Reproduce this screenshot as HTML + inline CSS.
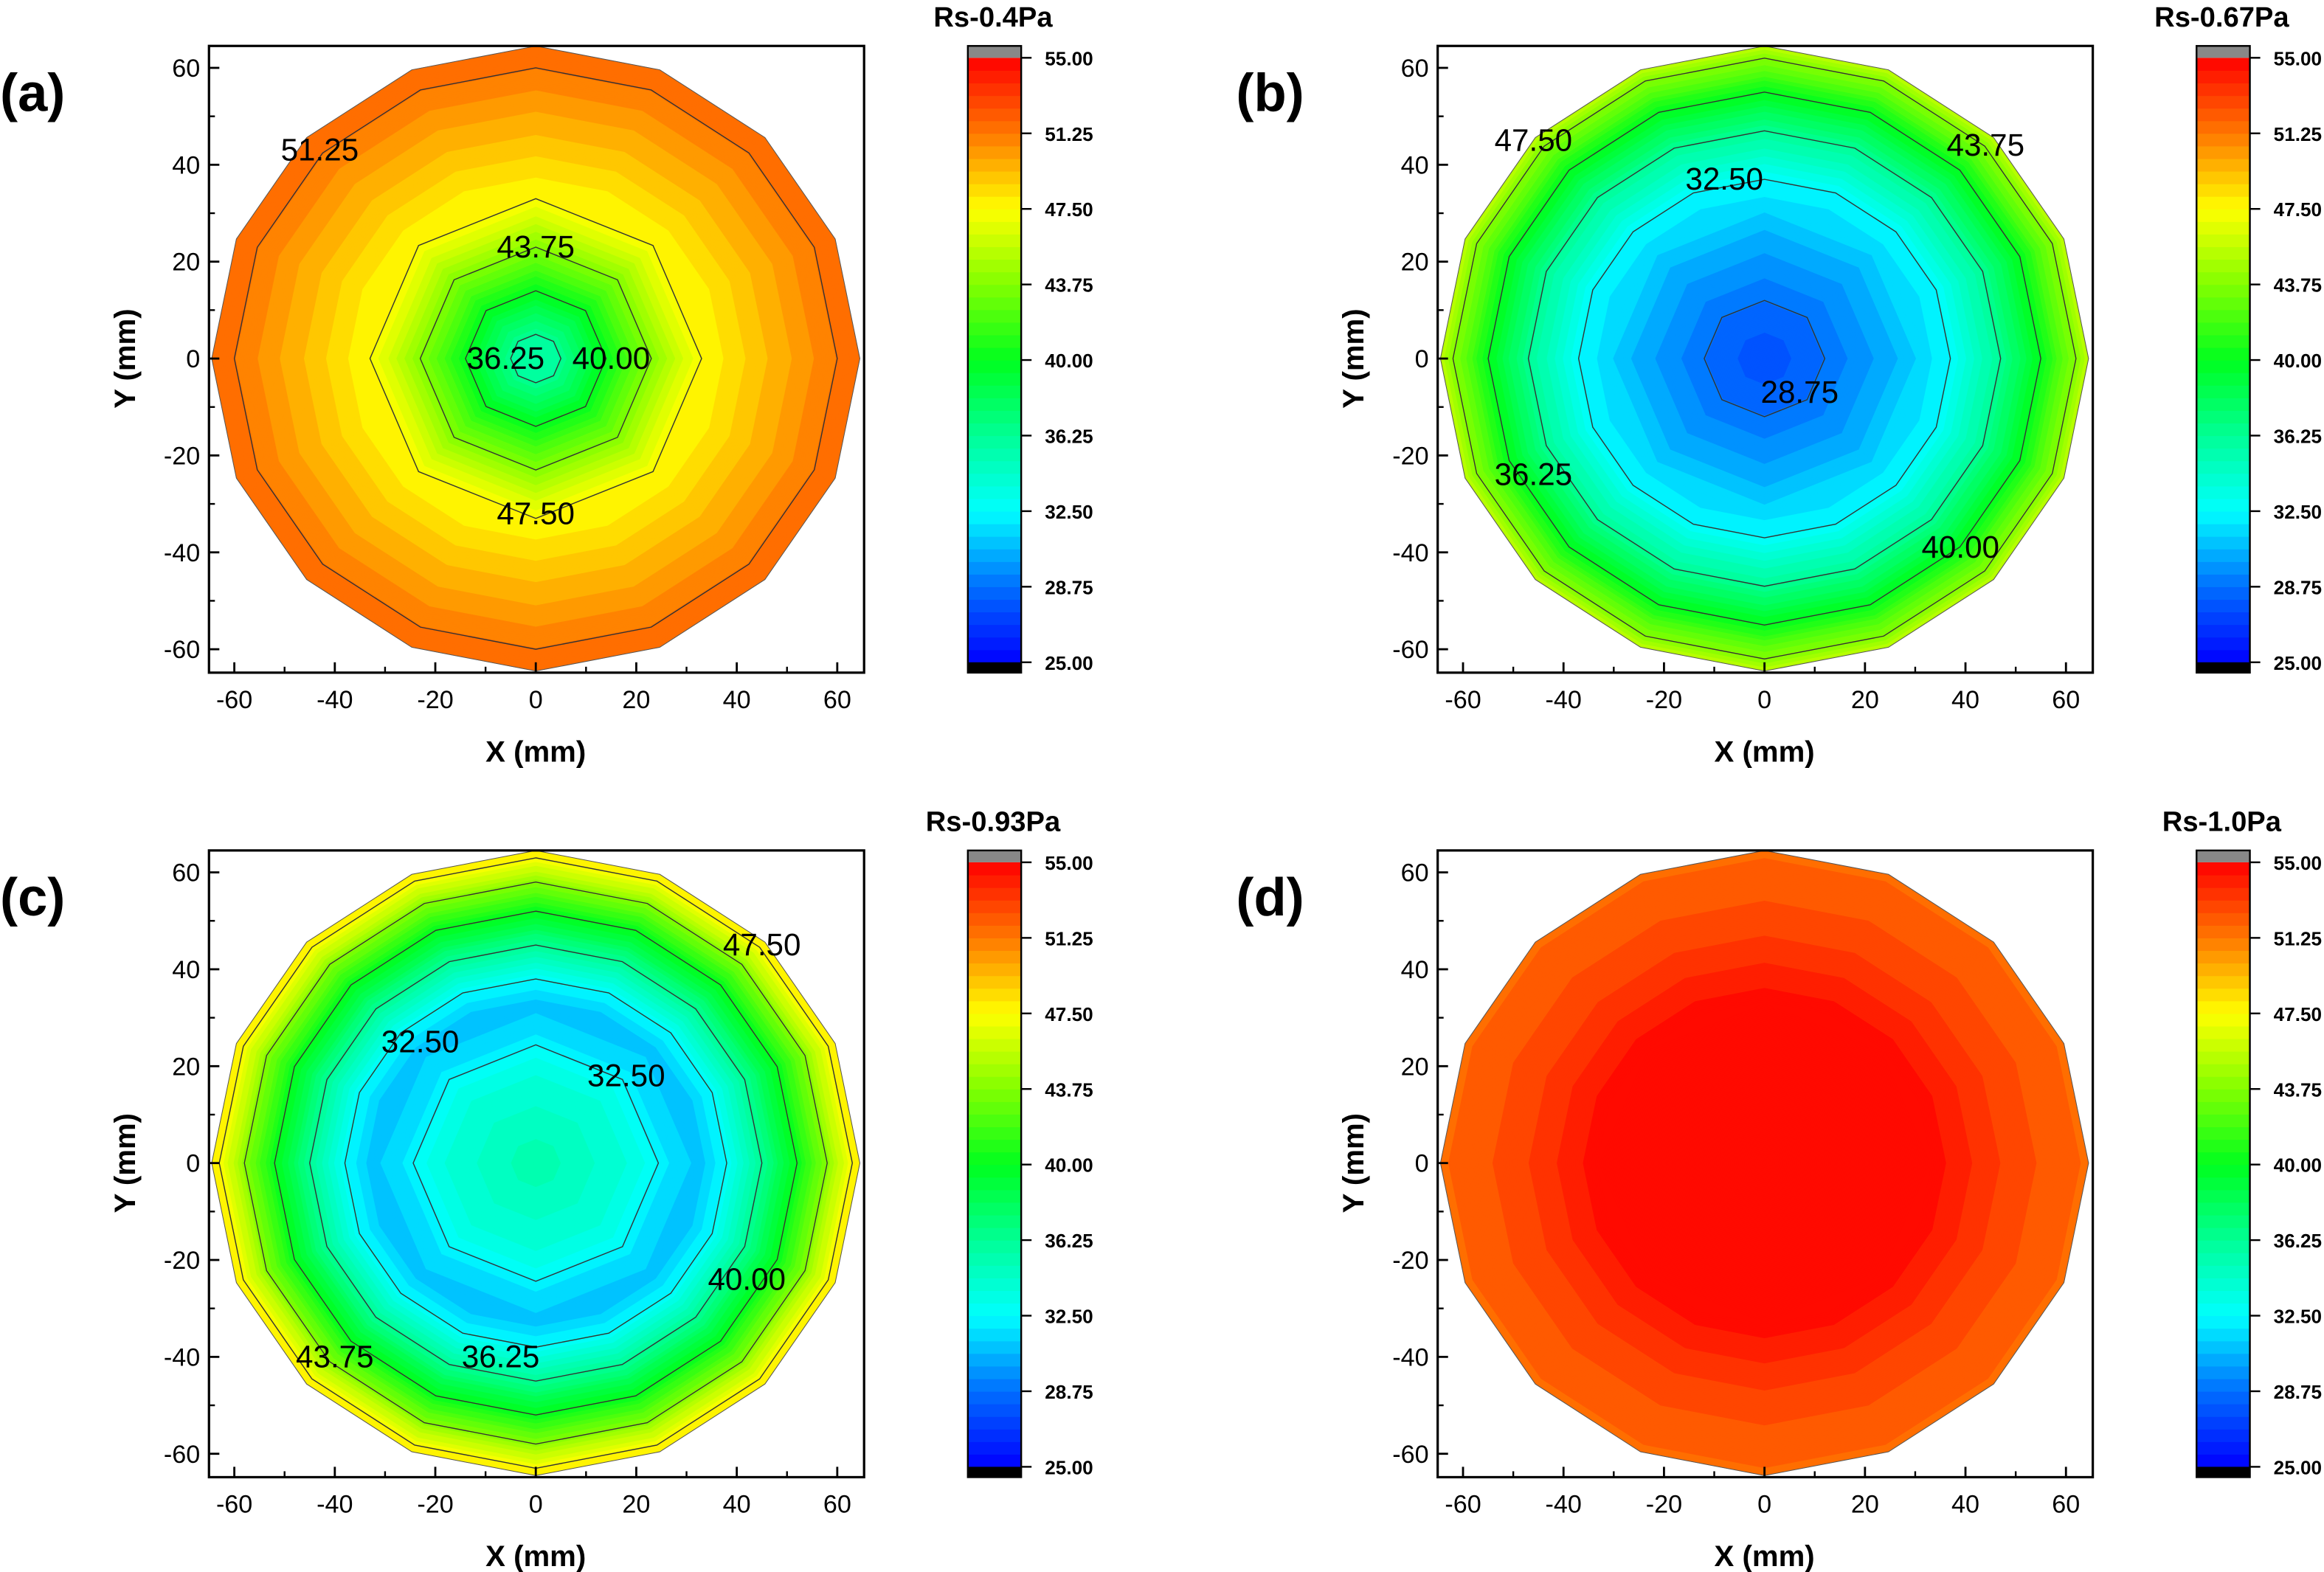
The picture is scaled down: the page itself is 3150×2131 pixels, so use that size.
<!DOCTYPE html>
<html><head><meta charset="utf-8"><style>
html,body{margin:0;padding:0;background:#fff}
svg{display:block}
text{font-family:"Liberation Sans",Arial,sans-serif}
</style></head><body>
<svg id="fig" width="3150" height="2131" viewBox="0 0 1568 1061" preserveAspectRatio="none" xmlns="http://www.w3.org/2000/svg"></svg>
<script>
// ---- data (radial profiles of Rs) ----
const panelLetters = ["(a)","(b)","(c)","(d)"];
const panelTitles = ["Rs-0.4Pa","Rs-0.67Pa","Rs-0.93Pa","Rs-1.0Pa"];
const radiiA = [0,5,14,23,33,48,60,65];
const valuesA = [36.0,36.25,40,43.75,47.5,49.6,51.25,51.6];
const radiiB = [0,12,28,37,47,55,62,66];
const valuesB = [27.6,28.75,30.8,32.5,36.25,40,43.75,46.5];
const radiiC = [0,20,28,33,38,45,52,58,63,66];
const valuesC = [35.5,33.6,31.6,31.0,32.5,36.25,40,43.75,47.5,48.6];
const radiiD = [0,36,50,64];
const valuesD = [55.0,54.4,52.8,51.8];
const contourLevels = [28.75,32.5,36.25,40,43.75,47.5,51.25];
const cbarTicks = [25,28.75,32.5,36.25,40,43.75,47.5,51.25,55];
const axisTicks = [-60,-40,-20,0,20,40,60];
const minorTicks = [-50,-30,-10,10,30,50];
const labelsA = [[51.25,-43,43],[43.75,0,23],[47.5,0,-32],[36.25,-6,0],[40,15,0]];
const labelsB = [[47.5,-46,45],[43.75,44,44],[32.5,-8,37],[28.75,7,-7],[36.25,-46,-24],[40,39,-39]];
const labelsC = [[47.5,45,45],[32.5,-23,25],[32.5,18,18],[40,42,-24],[43.75,-40,-40],[36.25,-7,-40]];
const labelsD = [];

const profiles=[[radiiA,valuesA,labelsA],[radiiB,valuesB,labelsB],[radiiC,valuesC,labelsC],[radiiD,valuesD,labelsD]];
const NS="http://www.w3.org/2000/svg";
const svg=document.getElementById('fig');
function mk(tag,attrs,parent){const e=document.createElementNS(NS,tag);for(const k in attrs)e.setAttribute(k,attrs[k]);(parent||svg).appendChild(e);return e;}
const stops=[[25,[0,0,255]],[28.75,[0,110,255]],[32.5,[0,255,255]],[36.25,[0,255,150]],[40,[0,255,30]],[43.75,[130,255,0]],[47.5,[255,255,0]],[51.25,[255,120,0]],[55,[255,0,0]]];
function cmap(v){v=Math.max(25,Math.min(55,v));for(let i=0;i<stops.length-1;i++){const a=stops[i],b=stops[i+1];if(v<=b[0]){const t=(v-a[0])/(b[0]-a[0]);const c=a[1].map((x,j)=>Math.round(x+(b[1][j]-x)*t));return `rgb(${c})`;}}return 'rgb(255,0,0)';}
function quant(v){const step=0.625;const k=Math.floor((v-25)/step);return 25+(k+0.5)*step;}
function interp(R,V,r){for(let i=0;i<R.length-1;i++){if(r<=R[i+1]){const t=(r-R[i])/(R[i+1]-R[i]);return V[i]+(V[i+1]-V[i])*t;}}return V[V.length-1];}
function fmt(v){return v.toFixed(2);}
const RMAX=64.5;
profiles.forEach((p,idx)=>{
  const [R,V,L]=p;
  const ox=(idx%2)*829, oy=Math.floor(idx/2)*543;
  const x0=141+ox,x1=583+ox,y0=31+oy,y1=454+oy;
  const sx=v=>361.5+ox+v*3.39, sy=v=>242+oy-v*3.27;
  const g=mk('g',{});
  function poly(r){const n=r<=33?8:16;const pts=[];for(let i=0;i<n;i++){const a=Math.PI/2+i*2*Math.PI/n;pts.push(sx(r*Math.cos(a)).toFixed(2)+','+sy(r*Math.sin(a)).toFixed(2));}return pts.join(' ');}
  const fill=mk('g',{},g);
  for(let r=RMAX;r>0;r-=0.4){const v=interp(R,V,r);mk('polygon',{points:poly(r),fill:cmap(quant(v)),stroke:cmap(quant(v)),'stroke-width':0.3},fill);}
  const lines=mk('g',{},g);
  contourLevels.forEach(lv=>{for(let i=0;i<R.length-1;i++){const a=V[i],b=V[i+1];if((a-lv)*(b-lv)<0||(a===lv&&i>0)){const r=R[i]+(lv-a)/(b-a)*(R[i+1]-R[i]);if(r<=RMAX+0.5){const e=mk('polygon',{points:poly(Math.min(r,RMAX)),fill:'none',stroke:'#333','stroke-width':0.7},lines);}}}});
  mk('polygon',{points:poly(RMAX),fill:'none',stroke:'#555','stroke-width':0.5},lines);
  L.forEach(l=>{const t=mk('text',{x:sx(l[1]),y:sy(l[2])+7,'font-size':21,'text-anchor':'middle',fill:'#000'},g);t.textContent=fmt(l[0]);});
  mk('rect',{x:x0,y:y0,width:x1-x0,height:y1-y0,fill:'none',stroke:'#000','stroke-width':1.6,},g);
  axisTicks.forEach(t=>{
    mk('line',{x1:sx(t),y1:y1,x2:sx(t),y2:y1-7,stroke:'#000','stroke-width':1.4},g);
    mk('line',{x1:x0,y1:sy(t),x2:x0+7,y2:sy(t),stroke:'#000','stroke-width':1.4},g);
    const tx=mk('text',{x:sx(t),y:y1+24,'font-size':17,'text-anchor':'middle'},g);tx.textContent=t;
    const ty=mk('text',{x:x0-6,y:sy(t)+6,'font-size':17,'text-anchor':'end'},g);ty.textContent=t;
  });
  minorTicks.forEach(t=>{
    mk('line',{x1:sx(t),y1:y1,x2:sx(t),y2:y1-4,stroke:'#000','stroke-width':1.2},g);
    mk('line',{x1:x0,y1:sy(t),x2:x0+4,y2:sy(t),stroke:'#000','stroke-width':1.2},g);
  });
  const xt=mk('text',{x:361.5+ox,y:y1+60,'font-size':20,'font-weight':'bold','text-anchor':'middle',},g);xt.textContent='X (mm)';
  const yt=mk('text',{x:0,y:0,'font-size':20,'font-weight':'bold','text-anchor':'middle',transform:`translate(${91+ox},${242+oy}) rotate(-90)`,},g);yt.textContent='Y (mm)';
  const pl=mk('text',{x:(idx%2?834:0),y:75+oy,'font-size':36,'font-weight':'bold',},g);pl.textContent=panelLetters[idx];
  const cx0=653+ox,cx1=689+ox,cb0=39+oy,cb1=447+oy;
  const cb=mk('g',{},g);
  const cy=v=>cb1-(v-25)/30*(cb1-cb0);
  for(let k=0;k<48;k++){const v0=25+k*0.625;mk('rect',{x:cx0,y:cy(v0+0.625),width:cx1-cx0,height:cy(v0)-cy(v0+0.625)+0.3,fill:cmap(v0+0.3125)},cb);}
  mk('rect',{x:cx0,y:y0,width:cx1-cx0,height:cb0-y0,fill:'#888'},cb);
  mk('rect',{x:cx0,y:cb1,width:cx1-cx0,height:y1-cb1,fill:'#000'},cb);
  mk('rect',{x:cx0,y:y0,width:cx1-cx0,height:y1-y0,fill:'none',stroke:'#000','stroke-width':1.2},cb);
  cbarTicks.forEach(t=>{mk('line',{x1:cx1,y1:cy(t),x2:cx1+7,y2:cy(t),stroke:'#000','stroke-width':1.2},cb);
    const e=mk('text',{x:cx1+16,y:cy(t)+5,'font-size':13,'font-weight':'bold'},cb);e.textContent=fmt(t);});
  const ct=mk('text',{x:670+ox,y:18+oy,'font-size':19,'font-weight':'bold','text-anchor':'middle',},g);ct.textContent=panelTitles[idx];
});
</script>
</body></html>
